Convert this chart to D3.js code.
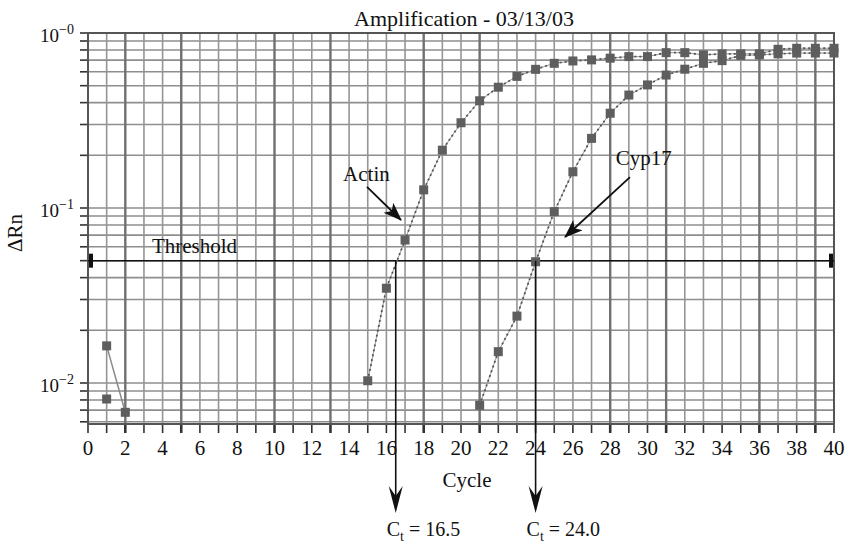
<!DOCTYPE html>
<html>
<head>
<meta charset="utf-8">
<script src="https://cdn.jsdelivr.net/npm/d3@7"></script>
<style>
  body { margin: 0; background: #fff; }
  svg { display: block; font-family: "Liberation Serif", "Times New Roman", serif; }
</style>
</head>
<body>
<script>
// cycle numbers and delta Rn values
var actinCycles = [15, 16, 17, 18, 19, 20, 21, 22, 23, 24, 25, 26, 27, 28, 29, 30, 31, 32, 33, 34, 35, 36, 37, 38, 39, 40];
var actinValues = [0.0103, 0.0348, 0.0656, 0.127, 0.214, 0.307, 0.41, 0.49, 0.565, 0.62, 0.671, 0.692, 0.702, 0.718, 0.733, 0.733, 0.772, 0.772, 0.75, 0.76, 0.76, 0.76, 0.807, 0.818, 0.818, 0.818];

var cypCycles = [21, 22, 23, 24, 25, 26, 27, 28, 29, 30, 31, 32, 33, 34, 35, 36, 37, 38, 39, 40];
var cypValues = [0.00746, 0.0151, 0.0241, 0.0493, 0.0953, 0.161, 0.25, 0.348, 0.442, 0.505, 0.575, 0.621, 0.671, 0.695, 0.745, 0.75, 0.76, 0.768, 0.768, 0.768];

// early cycles (background) that sit above the floor
var earlyCycles = [1, 2];
var earlyValues = [0.0163, 0.0068];
var loneCycle = [1];
var loneValue = [0.0081];

var threshold = 0.05;
var ctValues = [16.5, 24.0];
var ctLabels = ["16.5", "24.0"];

var xTickValues = [0, 2, 4, 6, 8, 10, 12, 14, 16, 18, 20, 22, 24, 26, 28, 30, 32, 34, 36, 38, 40];
var yDecades = [1, 0.1, 0.01];
var yDecadeLabels = ["\u22120", "\u22121", "\u22122"];

// the scanned grid has some darker columns
var darkCycles = [2, 5, 10, 13, 18, 21, 28, 31, 36, 39];

var w = 849, h = 544;
var plotL = 88, plotR = 834, plotT = 33, plotB = 424;

var svg = d3.select("body").append("svg")
  .attr("width", w)
  .attr("height", h);

var x = d3.scaleLinear().domain([0, 40]).range([plotL, plotR]);
var y = d3.scaleLog().domain([0.00583, 1]).range([plotB, plotT]);

var defs = svg.append("defs");
defs.append("marker")
  .attr("id", "head")
  .attr("viewBox", "0 -6 16 12")
  .attr("refX", 15)
  .attr("refY", 0)
  .attr("markerUnits", "userSpaceOnUse")
  .attr("markerWidth", 20)
  .attr("markerHeight", 14)
  .attr("orient", "auto")
  .append("path")
  .attr("d", "M0,-6L16,0L0,6L4,0Z")
  .attr("fill", "#111");

// grid
var yMinor = y.ticks();
svg.append("g").selectAll("line")
  .data(yMinor)
  .enter().append("line")
  .attr("x1", plotL).attr("x2", plotR)
  .attr("y1", function(d) { return y(d); })
  .attr("y2", function(d) { return y(d); })
  .attr("stroke", "#8e8e8e")
  .attr("stroke-width", 1.6);

svg.append("g").selectAll("line")
  .data(d3.range(0, 41))
  .enter().append("line")
  .attr("x1", function(d) { return x(d); })
  .attr("x2", function(d) { return x(d); })
  .attr("y1", plotT).attr("y2", plotB)
  .attr("stroke", function(d) { return darkCycles.indexOf(d) >= 0 ? "#707070" : "#959595"; })
  .attr("stroke-width", function(d) { return darkCycles.indexOf(d) >= 0 ? 2.4 : 1.6; });

// small ticks outside the frame
svg.append("g").selectAll("line")
  .data(yMinor)
  .enter().append("line")
  .attr("x1", plotL - 8).attr("x2", plotL)
  .attr("y1", function(d) { return y(d); })
  .attr("y2", function(d) { return y(d); })
  .attr("stroke", "#333")
  .attr("stroke-width", 1.6);

svg.append("g").selectAll("line")
  .data(d3.range(0, 41))
  .enter().append("line")
  .attr("x1", function(d) { return x(d); })
  .attr("x2", function(d) { return x(d); })
  .attr("y1", plotB).attr("y2", plotB + 9)
  .attr("stroke", "#333")
  .attr("stroke-width", function(d) { return darkCycles.indexOf(d) >= 0 ? 2.6 : 1.6; });

// frame
svg.append("rect")
  .attr("x", plotL).attr("y", plotT)
  .attr("width", plotR - plotL).attr("height", plotB - plotT)
  .attr("fill", "none")
  .attr("stroke", "#555")
  .attr("stroke-width", 2);

// threshold
svg.append("line")
  .attr("x1", plotL).attr("x2", plotR)
  .attr("y1", y(threshold)).attr("y2", y(threshold))
  .attr("stroke", "#111")
  .attr("stroke-width", 1.6);
svg.append("rect")
  .attr("x", plotL + 1).attr("y", y(threshold) - 7)
  .attr("width", 4).attr("height", 14)
  .attr("fill", "#111");
svg.append("rect")
  .attr("x", plotR - 5).attr("y", y(threshold) - 7)
  .attr("width", 4).attr("height", 14)
  .attr("fill", "#111");

svg.append("text")
  .attr("x", x(3.43)).attr("y", y(0.0553))
  .attr("font-size", 21)
  .attr("fill", "#111")
  .text("Threshold");

// series
var line = d3.line()
  .x(function(d) { return x(d[0]); })
  .y(function(d) { return y(d[1]); });

function drawSeries(cycles, values, dotted) {
  var pts = cycles.map(function(c, i) { return [c, values[i]]; });
  if (dotted) {
    svg.append("path")
      .attr("d", line(pts))
      .attr("fill", "none")
      .attr("stroke", "#9a9a9a")
      .attr("stroke-width", 1);
    svg.append("path")
      .attr("d", line(pts))
      .attr("fill", "none")
      .attr("stroke", "#555")
      .attr("stroke-width", 1.8)
      .attr("stroke-dasharray", "2,3");
  } else if (pts.length > 1) {
    svg.append("path")
      .attr("d", line(pts))
      .attr("fill", "none")
      .attr("stroke", "#8a8a8a")
      .attr("stroke-width", 1.5);
  }
  svg.append("g").selectAll("rect")
    .data(pts)
    .enter().append("rect")
    .attr("x", function(d) { return x(d[0]) - 4.5; })
    .attr("y", function(d) { return y(d[1]) - 4.5; })
    .attr("width", 9).attr("height", 9)
    .attr("fill", "#5e5e5e");
}

drawSeries(earlyCycles, earlyValues, false);
drawSeries(loneCycle, loneValue, false);
drawSeries(cypCycles, cypValues, true);
drawSeries(actinCycles, actinValues, true);

// Ct drop lines with arrow heads
var arrowTip = 513;
ctValues.forEach(function(c, i) {
  var cx = x(c);
  svg.append("line")
    .attr("x1", cx).attr("x2", cx)
    .attr("y1", y(threshold)).attr("y2", arrowTip - 14)
    .attr("stroke", "#111")
    .attr("stroke-width", 1.6);
  svg.append("path")
    .attr("d", "M" + cx + "," + arrowTip +
      "L" + (cx - 7) + "," + (arrowTip - 27) +
      "L" + cx + "," + (arrowTip - 17) +
      "L" + (cx + 7) + "," + (arrowTip - 27) + "Z")
    .attr("fill", "#111");
  var t = svg.append("text")
    .attr("x", cx - 9)
    .attr("y", 536)
    .attr("font-size", 20)
    .attr("fill", "#111");
  t.append("tspan").text("C");
  t.append("tspan").attr("font-size", 14).attr("dy", 5).text("t");
  t.append("tspan").attr("dy", -5).text(" = " + ctLabels[i]);
});

// gene labels and pointers
function pointer(label, lx, ly, x1, y1, x2, y2) {
  svg.append("text")
    .attr("x", x(lx)).attr("y", y(ly))
    .attr("text-anchor", "middle")
    .attr("font-size", 21)
    .attr("fill", "#111")
    .text(label);
  svg.append("line")
    .attr("x1", x(x1)).attr("y1", y(y1))
    .attr("x2", x(x2)).attr("y2", y(y2))
    .attr("stroke", "#111")
    .attr("stroke-width", 1.8)
    .attr("marker-end", "url(#head)");
}
pointer("Actin", 14.93, 0.1426, 14.96, 0.132, 16.78, 0.0854);
pointer("Cyp17", 29.8, 0.176, 29.06, 0.150, 25.58, 0.0683);

// axis labels
svg.append("g").selectAll("text")
  .data(xTickValues)
  .enter().append("text")
  .attr("x", function(d) { return x(d); })
  .attr("y", 455)
  .attr("text-anchor", "middle")
  .attr("font-size", 21)
  .attr("fill", "#111")
  .text(function(d) { return d; });

var yl = svg.append("g").selectAll("text")
  .data(yDecades)
  .enter().append("text")
  .attr("x", 74)
  .attr("y", function(d) { return y(d) + 9; })
  .attr("text-anchor", "end")
  .attr("font-size", 19)
  .attr("fill", "#111");
yl.append("tspan").text("10");
yl.append("tspan")
  .attr("font-size", 14)
  .attr("dy", -8)
  .text(function(d, i) { return yDecadeLabels[i]; });

svg.append("text")
  .attr("transform", "translate(22," + 233 + ") rotate(-90)")
  .attr("text-anchor", "middle")
  .attr("font-size", 21)
  .attr("fill", "#111")
  .text("\u0394Rn");

svg.append("text")
  .attr("x", 467).attr("y", 487)
  .attr("text-anchor", "middle")
  .attr("font-size", 21)
  .attr("fill", "#111")
  .text("Cycle");

svg.append("text")
  .attr("x", 464).attr("y", 26)
  .attr("text-anchor", "middle")
  .attr("font-size", 22)
  .attr("fill", "#111")
  .text("Amplification - 03/13/03");
</script>
</body>
</html>
